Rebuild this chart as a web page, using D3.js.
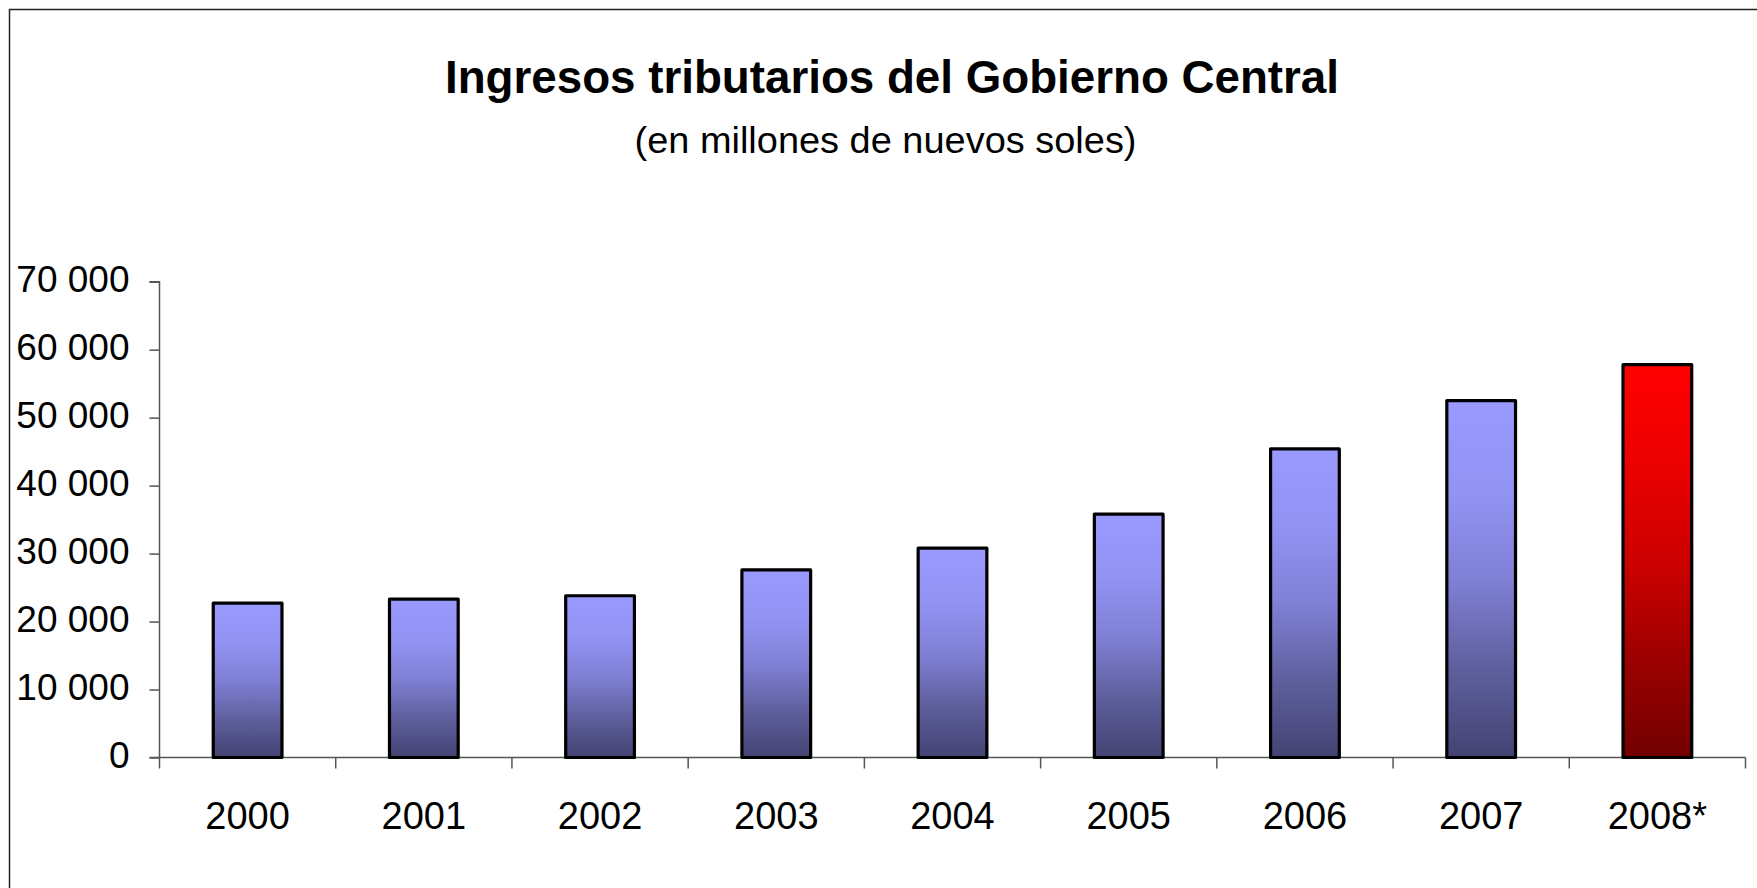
<!DOCTYPE html>
<html>
<head>
<meta charset="utf-8">
<script src="https://cdn.jsdelivr.net/npm/d3@7"></script>
<style>
  html, body { margin: 0; padding: 0; background: #fff; }
  svg { display: block; }
  text { font-family: "Liberation Sans", Arial, sans-serif; fill: #000; }
</style>
</head>
<body>
<svg id="chart" width="1757" height="888"></svg>
<script>
// ---- data ----
const categories = ["2000", "2001", "2002", "2003", "2004", "2005", "2006", "2007", "2008*"];
const values = [22700, 23300, 23800, 27600, 30800, 35800, 45400, 52500, 57800];
const highlighted = ["2008*"];
const yTicks = [0, 10000, 20000, 30000, 40000, 50000, 60000, 70000];
const titleText = "Ingresos tributarios del Gobierno Central";
const subtitleText = "(en millones de nuevos soles)";

const svg = d3.select("#chart");
const W = 1757, H = 888;

svg.append("rect").attr("width", W).attr("height", H).attr("fill", "#fff");

// frame (top and left edges visible)
svg.append("path")
  .attr("d", `M9.5,${H} L9.5,9.5 L${W},9.5`)
  .attr("fill", "none").attr("stroke", "#222").attr("stroke-width", 1.5);

// gradients
const defs = svg.append("defs");
const gBlue = defs.append("linearGradient").attr("id", "gBlue")
  .attr("x1", 0).attr("y1", 0).attr("x2", 0).attr("y2", 1);
[[0, "#9999ff"], [0.25, "#9393f4"], [0.5, "#8080d6"], [0.75, "#5f5f9e"], [1, "#434373"]]
  .forEach(([o, c]) => gBlue.append("stop").attr("offset", o).attr("stop-color", c));
const gRed = defs.append("linearGradient").attr("id", "gRed")
  .attr("x1", 0).attr("y1", 0).attr("x2", 0).attr("y2", 1);
[[0, "#ff0000"], [0.25, "#ec0000"], [0.5, "#cc0000"], [0.75, "#9c0000"], [1, "#720000"]]
  .forEach(([o, c]) => gRed.append("stop").attr("offset", o).attr("stop-color", c));

// scales
const x0 = 159.5, x1 = 1745.5;
const yBase = 757.5, yTop = 281.7;
const x = d3.scaleBand().domain(categories).range([x0, x1])
  .paddingInner(0.61).paddingOuter(0.305);
const y = d3.scaleLinear().domain([0, 70000]).range([yBase, yTop]);

// title
svg.append("text")
  .attr("x", 892).attr("y", 93)
  .attr("text-anchor", "middle")
  .attr("font-size", 46).attr("font-weight", "bold")
  .attr("textLength", 894).attr("lengthAdjust", "spacingAndGlyphs")
  .text(titleText);
svg.append("text")
  .attr("x", 885.5).attr("y", 152.5)
  .attr("text-anchor", "middle")
  .attr("font-size", 37)
  .attr("textLength", 502).attr("lengthAdjust", "spacingAndGlyphs")
  .text(subtitleText);

// y axis
const yAxis = d3.axisLeft(y).tickValues(yTicks).tickSize(10).tickPadding(20)
  .tickFormat(d => d3.format(",")(d).replace(/,/g, " "));
const gy = svg.append("g").attr("transform", `translate(${x0},0)`).call(yAxis);
gy.select(".domain").attr("stroke", "#555").attr("stroke-width", 1.5)
  .attr("d", `M-10,${yTop}H0V${yBase}`);
gy.selectAll(".tick line").attr("stroke", "#555").attr("stroke-width", 1.5);
gy.selectAll(".tick text")
  .attr("font-size", 37).attr("font-family", "Liberation Sans, Arial, sans-serif")
  .attr("fill", "#000").attr("dy", "0.26em");

// x axis baseline and boundary ticks
svg.append("line")
  .attr("x1", x0 - 10).attr("x2", x1).attr("y1", yBase).attr("y2", yBase)
  .attr("stroke", "#555").attr("stroke-width", 1.5);
const boundaries = d3.range(categories.length + 1).map(i => x0 + i * x.step());
svg.append("g").selectAll("line").data(boundaries).join("line")
  .attr("x1", d => d).attr("x2", d => d)
  .attr("y1", yBase).attr("y2", yBase + 11)
  .attr("stroke", "#555").attr("stroke-width", 1.5);

// x labels
svg.append("g").selectAll("text").data(categories).join("text")
  .attr("x", d => x(d) + x.bandwidth() / 2)
  .attr("y", 829)
  .attr("text-anchor", "middle")
  .attr("font-size", 38)
  .text(d => d);

// bars
svg.append("g").selectAll("rect").data(categories).join("rect")
  .attr("x", d => x(d))
  .attr("width", x.bandwidth())
  .attr("y", (d, i) => y(values[i]))
  .attr("height", (d, i) => yBase - y(values[i]))
  .attr("fill", d => highlighted.includes(d) ? "url(#gRed)" : "url(#gBlue)")
  .attr("stroke", "#000").attr("stroke-width", 3.2)
  .attr("stroke-linejoin", "round");
</script>
</body>
</html>
